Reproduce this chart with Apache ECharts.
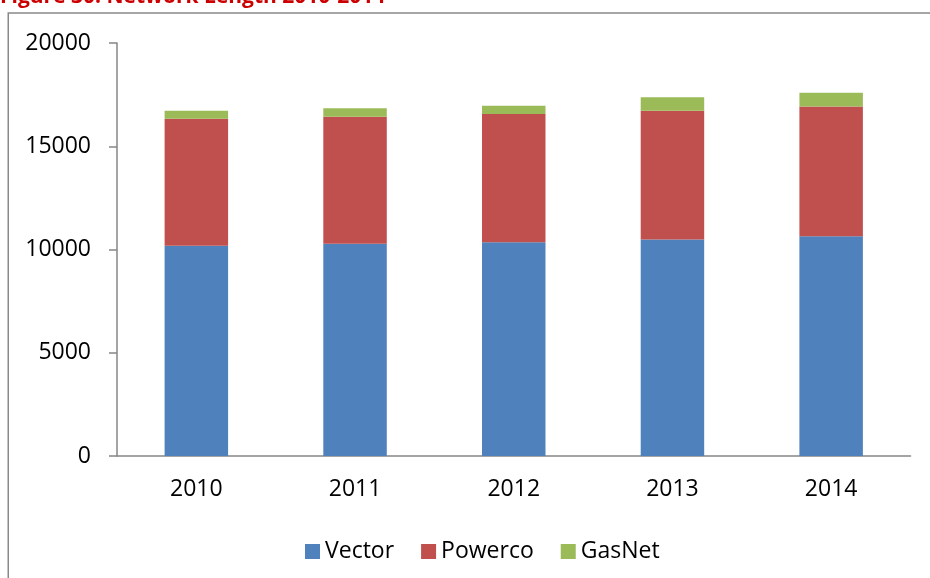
<!DOCTYPE html>
<html><head><meta charset="utf-8">
<script src="https://cdn.jsdelivr.net/npm/echarts@6/dist/echarts.min.js"></script>
<style>html,body{margin:0;padding:0;background:#fff}#c{width:930px;height:578px}</style>
</head><body><div id="c"></div>
<script>
const years = ['2010','2011','2012','2013','2014'];
const vector = [10180, 10280, 10350, 10490, 10640];
const powerco = [6150, 6150, 6210, 6230, 6280];
const gasnet = [390, 410, 400, 650, 670];
const yTicks = {min: 0, max: 20000, interval: 5000};
const titleText = 'Figure 30: Network Length 2010-2014';

const FONT = '"Open Sans", "Noto Sans", sans-serif';
const chart = echarts.init(document.getElementById('c'), null, {renderer: 'canvas'});
const axisCol = '#868686';
chart.setOption({
  animation: false,
  backgroundColor: '#fff',
  textStyle: {fontFamily: FONT},
  graphic: [
    {type: 'rect', shape: {x: 8.25, y: 13, width: 940, height: 620}, style: {fill: 'none', stroke: '#898989', lineWidth: 1.5}, z: -1},
    {type: 'text', left: 0, top: -13, style: {text: titleText, fill: '#cc0000', font: 'bold 21px ' + FONT}}
  ],
  grid: {left: 117, right: 19.5, top: 43, bottom: 122},
  legend: {
    left: 300, top: 535, icon: 'rect', itemWidth: 15, itemHeight: 15, itemGap: 27,
    textStyle: {fontSize: 23, color: '#000', fontFamily: FONT, padding: [0, 0, 0, 0]},
    data: ['Vector', 'Powerco', 'GasNet']
  },
  xAxis: {
    type: 'category', data: years, boundaryGap: true,
    axisLine: {lineStyle: {color: axisCol, width: 1.5}},
    axisTick: {length: 7, lineStyle: {color: axisCol, width: 1.5}},
    axisLabel: {fontSize: 23, color: '#000', margin: 22, fontFamily: FONT}
  },
  yAxis: {
    type: 'value', min: yTicks.min, max: yTicks.max, interval: yTicks.interval,
    splitLine: {show: false},
    axisLine: {show: true, lineStyle: {color: axisCol, width: 1.5}},
    axisTick: {show: true, length: 8, lineStyle: {color: axisCol, width: 1.5}},
    axisLabel: {fontSize: 23, color: '#000', margin: 26, fontFamily: FONT, formatter: v => String(v)}
  },
  series: [
    {name: 'Vector', type: 'bar', stack: 's', data: vector, barWidth: '40%', itemStyle: {color: '#4F81BD'}},
    {name: 'Powerco', type: 'bar', stack: 's', data: powerco, barWidth: '40%', itemStyle: {color: '#C0504D'}},
    {name: 'GasNet', type: 'bar', stack: 's', data: gasnet, barWidth: '40%', itemStyle: {color: '#9BBB59'}}
  ]
});
</script></body></html>
